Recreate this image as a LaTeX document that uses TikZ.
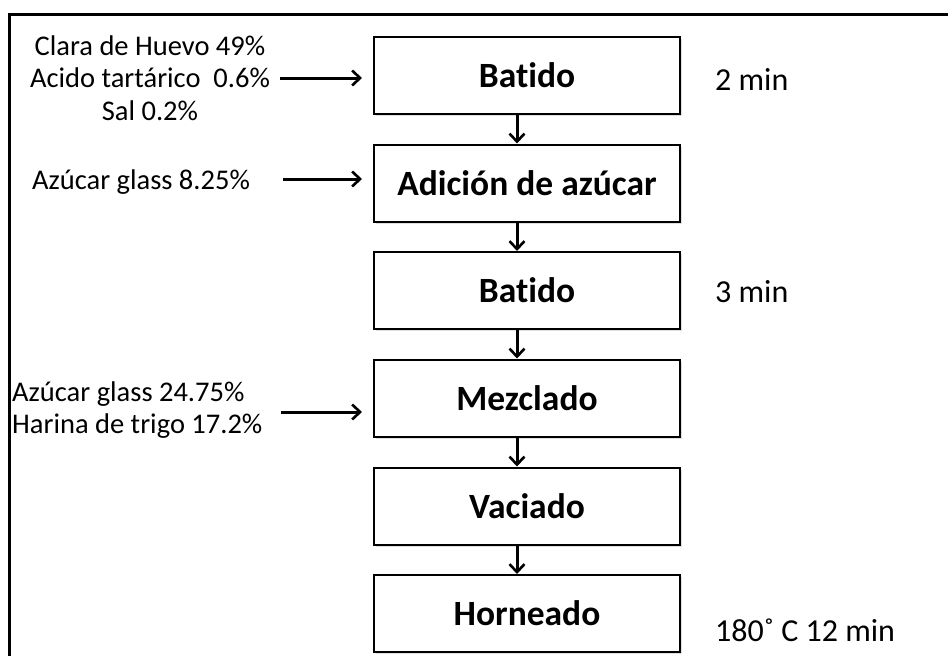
\documentclass[tikz,border=0pt]{standalone}
\usepackage{fontspec}
\setmainfont{Carlito}[Ligatures=NoCommon]
\usetikzlibrary{arrows.meta,shadows}

\begin{document}
\begin{tikzpicture}[x=1pt,y=-1pt]
        \tikzset{Paso/.style={draw,fill=white,line width=2pt,minimum width=306pt,minimum height=77pt,
                              inner sep=0pt,font=\fontsize{35.5}{40}\selectfont\bfseries,
                              drop shadow={shadow xshift=2pt,shadow yshift=-2pt,opacity=0.25}},
                 Dato/.style={inner sep=0pt,font=\fontsize{28.5}{32.5}\selectfont},
                 Tiempo/.style={inner sep=0pt,anchor=base west,font=\fontsize{32}{38}\selectfont},
                 Flecha/.style={line width=3pt,-{Straight Barb[length=8pt,width=15pt,line width=2.6pt]}}}

        \useasboundingbox (0,0) rectangle (948,656);
        \draw[line width=3pt] (948,14) -- (9,14) -- (9,656);

        \node[Paso] (B1) at (527,75)    {Batido};
        \node[Paso] (B2) at (527,183)   {Adición de azúcar};
        \node[Paso] (B3) at (527,290.5) {Batido};
        \node[Paso] (B4) at (527,398)   {Mezclado};
        \node[Paso] (B5) at (527,506)   {Vaciado};
        \node[Paso] (B6) at (527,613.5) {Horneado};

        \node[Dato,align=center] (L1) at (150,78) {Clara de Huevo 49\%\\Acido tartárico\ \ 0.6\%\\Sal 0.2\%};
        \node[Dato] (L2) at (141,182) {Azúcar glass 8.25\%};
        \node[Dato,align=left,anchor=west] (L4) at (12,410) {Azúcar glass 24.75\%\\Harina de trigo 17.2\%};

        \node[Tiempo] (T1) at (715,90)  {2 min};
        \node[Tiempo] (T3) at (715,302) {3 min};
        \node[Tiempo] (T6) at (715,641) {180˚ C 12 min};

        \draw[Flecha,shorten <=10pt,shorten >=11pt] (L1.east) -- (L1.east -| B1.west);
        \draw[Flecha,shorten <=33pt,shorten >=11pt] ([yshift=3pt]L2.east) -- ([yshift=3pt]L2.east -| B2.west);
        \draw[Flecha,shorten <=18pt,shorten >=11pt] ([yshift=-2pt]L4.east) -- ([yshift=-2pt]L4.east -| B4.west);

        \foreach \a/\b in {B1/B2,B2/B3,B3/B4,B4/B5,B5/B6}
            \draw[Flecha] ([xshift=-10pt]\a.south) -- ([xshift=-10pt]\b.north);
    \end{tikzpicture}
\end{document}
